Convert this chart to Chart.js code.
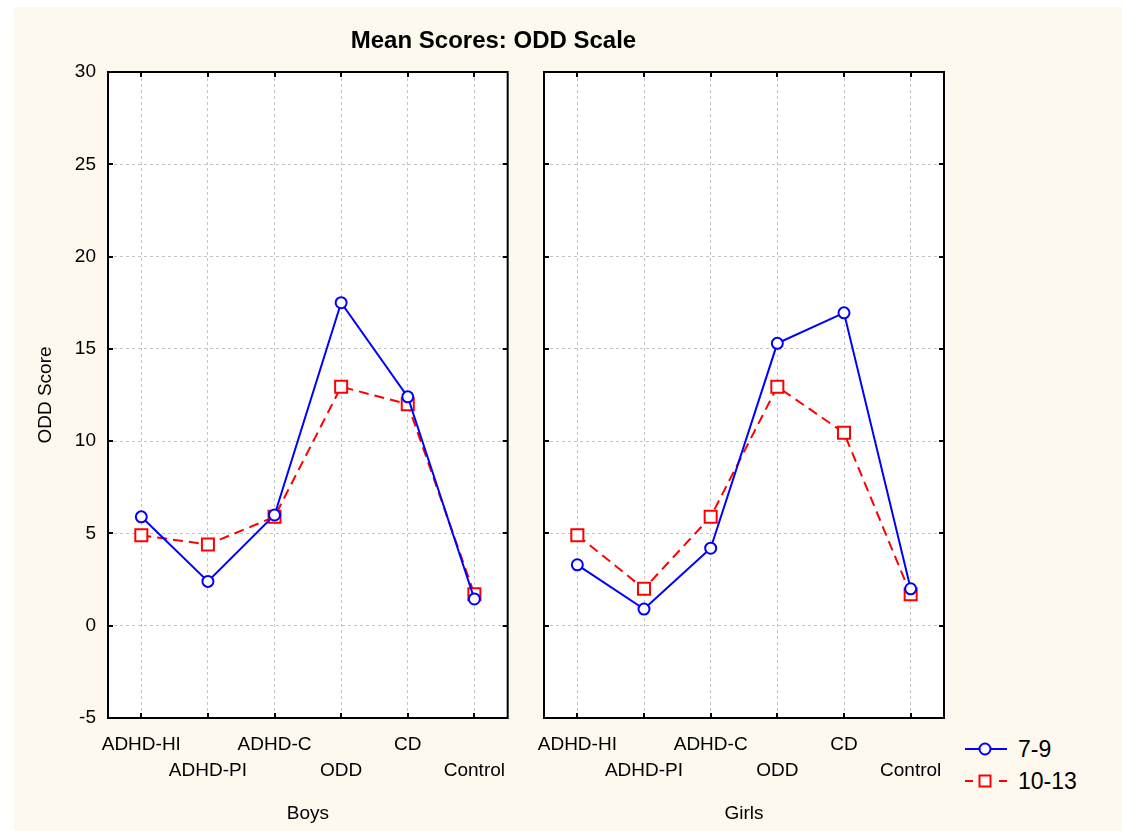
<!DOCTYPE html>
<html>
<head>
<meta charset="utf-8">
<script src="https://cdn.jsdelivr.net/npm/chart.js@4"></script>
<style>
  html, body { margin: 0; padding: 0; background: #fff; }
  #page {
    position: absolute; left: 13px; top: 7px; width: 1109px; height: 824px;
    background: #fdf9ee;
  }
  .abs { position: absolute; font-family: "Liberation Sans", Arial, sans-serif; color: #000; }
  #title { left: 0; top: 26px; width: 987px; text-align: center; font-size: 24px; font-weight: bold; }
  #leftBox { position: absolute; left: 0; top: 0; width: 520px; height: 831px; }
  #rightBox { position: absolute; left: 520px; top: 0; width: 440px; height: 831px; }
  #legend { left: 963px; top: 734px; font-size: 23px; width: 155px; white-space: nowrap; }
  .row { position: relative; height: 32px; line-height: 30px; }
  .row canvas { position: absolute; left: 0; top: 0; }
  .row .txt { position: absolute; left: 55px; top: 0; }
</style>
</head>
<body>
<div id="page"></div>
<div id="leftBox"><canvas id="boysChart"></canvas></div>
<div id="rightBox"><canvas id="girlsChart"></canvas></div>
<div id="title" class="abs">Mean Scores: ODD Scale</div>
<div id="legend" class="abs">
  <div class="row"><canvas id="lg1" width="46" height="30"></canvas><span class="txt">7-9</span></div>
  <div class="row"><canvas id="lg2" width="46" height="30"></canvas><span class="txt">10-13</span></div>
</div>
<script>
const groups = ['ADHD-HI', 'ADHD-PI', 'ADHD-C', 'ODD', 'CD', 'Control'];
const seriesNames = ['7-9', '10-13'];

const boysYoung = [5.9, 2.4, 6.0, 17.5, 12.4, 1.45];
const boysOld = [4.9, 4.4, 5.9, 12.95, 12.0, 1.7];
const girlsYoung = [3.3, 0.9, 4.2, 15.3, 16.95, 2.0];
const girlsOld = [4.9, 2.0, 5.9, 12.95, 10.45, 1.7];

const yMin = -5, yMax = 30, yStep = 5;
const FONT = '"Liberation Sans", Arial, sans-serif';

// frame + inward tick marks like the original
const framePlugin = {
    id: 'frame',
    afterDraw(chart) {
        const ctx = chart.ctx;
        const a = chart.chartArea;
        const xs = chart.scales.x, ys = chart.scales.y;
        ctx.save();
        ctx.strokeStyle = '#000';
        ctx.lineWidth = 2;
        ctx.beginPath();
        ys.ticks.forEach(t => {
            const y = Math.round(ys.getPixelForValue(t.value));
            ctx.moveTo(a.left, y); ctx.lineTo(a.left + 5, y);
            ctx.moveTo(a.right, y); ctx.lineTo(a.right - 5, y);
        });
        xs.ticks.forEach((t, i) => {
            const x = Math.round(xs.getPixelForValue(i));
            ctx.moveTo(x, a.bottom); ctx.lineTo(x, a.bottom - 5);
            ctx.moveTo(x, a.top); ctx.lineTo(x, a.top + 5);
        });
        ctx.stroke();
        ctx.strokeRect(a.left, a.top, a.right - a.left, a.bottom - a.top);
        ctx.restore();
    }
};

const whiteArea = {
    id: 'whiteArea',
    beforeDraw(chart) {
        const a = chart.chartArea;
        chart.ctx.save();
        chart.ctx.fillStyle = '#fff';
        chart.ctx.fillRect(a.left, a.top, a.right - a.left, a.bottom - a.top);
        chart.ctx.restore();
    }
};

function makeChart(id, young, old, sideLabel, showY, yWidth, pad) {
    return new Chart(document.getElementById(id), {
        type: 'line',
        data: {
            labels: groups,
            datasets: [{
                label: seriesNames[0],
                data: young,
                borderColor: '#0000ff',
                backgroundColor: '#fff',
                borderWidth: 2,
                pointStyle: 'circle',
                pointRadius: 5.5,
                pointBorderWidth: 2,
                tension: 0
            }, {
                label: seriesNames[1],
                data: old,
                borderColor: '#ff0000',
                backgroundColor: '#fff',
                borderWidth: 2,
                borderDash: [10, 6],
                pointStyle: 'rect',
                pointRadius: 8.5,
                pointBorderWidth: 2,
                tension: 0
            }]
        },
        options: {
            responsive: true,
            maintainAspectRatio: false,
            animation: false,
            layout: { padding: pad },
            plugins: { legend: { display: false }, tooltip: { enabled: false } },
            scales: {
                x: {
                    offset: true,
                    grid: { color: '#c4c4c4', drawTicks: false, offset: false },
                    border: { display: false, dash: [3, 3] },
                    ticks: {
                        autoSkip: false, maxRotation: 0, minRotation: 0, padding: 14,
                        color: '#000', font: { family: FONT, size: 19, lineHeight: 1.35 },
                        callback: (v, i) => i % 2 === 0 ? groups[i] : ['', groups[i]]
                    },
                    title: { display: true, text: sideLabel, color: '#000', font: { family: FONT, size: 19 }, padding: { top: 12, bottom: 6 } },
                    afterFit: s => { s.height = 113; }
                },
                y: {
                    min: yMin, max: yMax,
                    grid: { color: '#c4c4c4', drawTicks: false },
                    border: { display: false, dash: [3, 3] },
                    ticks: {
                        stepSize: yStep, display: showY, padding: 12,
                        color: '#000', font: { family: FONT, size: 19 }
                    },
                    title: { display: showY, text: 'ODD Score', color: '#000', font: { family: FONT, size: 19 }, padding: { top: 14, bottom: 0 } },
                    afterFit: s => { s.width = yWidth; }
                }
            }
        },
        plugins: [whiteArea, framePlugin]
    });
}

makeChart('boysChart', boysYoung, boysOld, 'Boys', true, 88, { left: 20, right: 12, top: 72, bottom: 0 });
makeChart('girlsChart', girlsYoung, girlsOld, 'Girls', false, 24, { left: 0, right: 16, top: 72, bottom: 0 });

// legend swatches
function swatch(id, color, dash, shape) {
    const c = document.getElementById(id).getContext('2d');
    c.strokeStyle = color; c.lineWidth = 2; c.fillStyle = '#fff';
    c.setLineDash(dash);
    c.beginPath(); c.moveTo(2, 15); c.lineTo(44, 15); c.stroke();
    c.setLineDash([]);
    c.beginPath();
    if (shape === 'circle') c.arc(22, 15, 5.5, 0, Math.PI * 2);
    else c.rect(16.5, 9.5, 11, 11);
    c.fill(); c.stroke();
}
swatch('lg1', '#0000ff', [], 'circle');
swatch('lg2', '#ff0000', [8, 26], 'rect');
</script>
</body>
</html>
